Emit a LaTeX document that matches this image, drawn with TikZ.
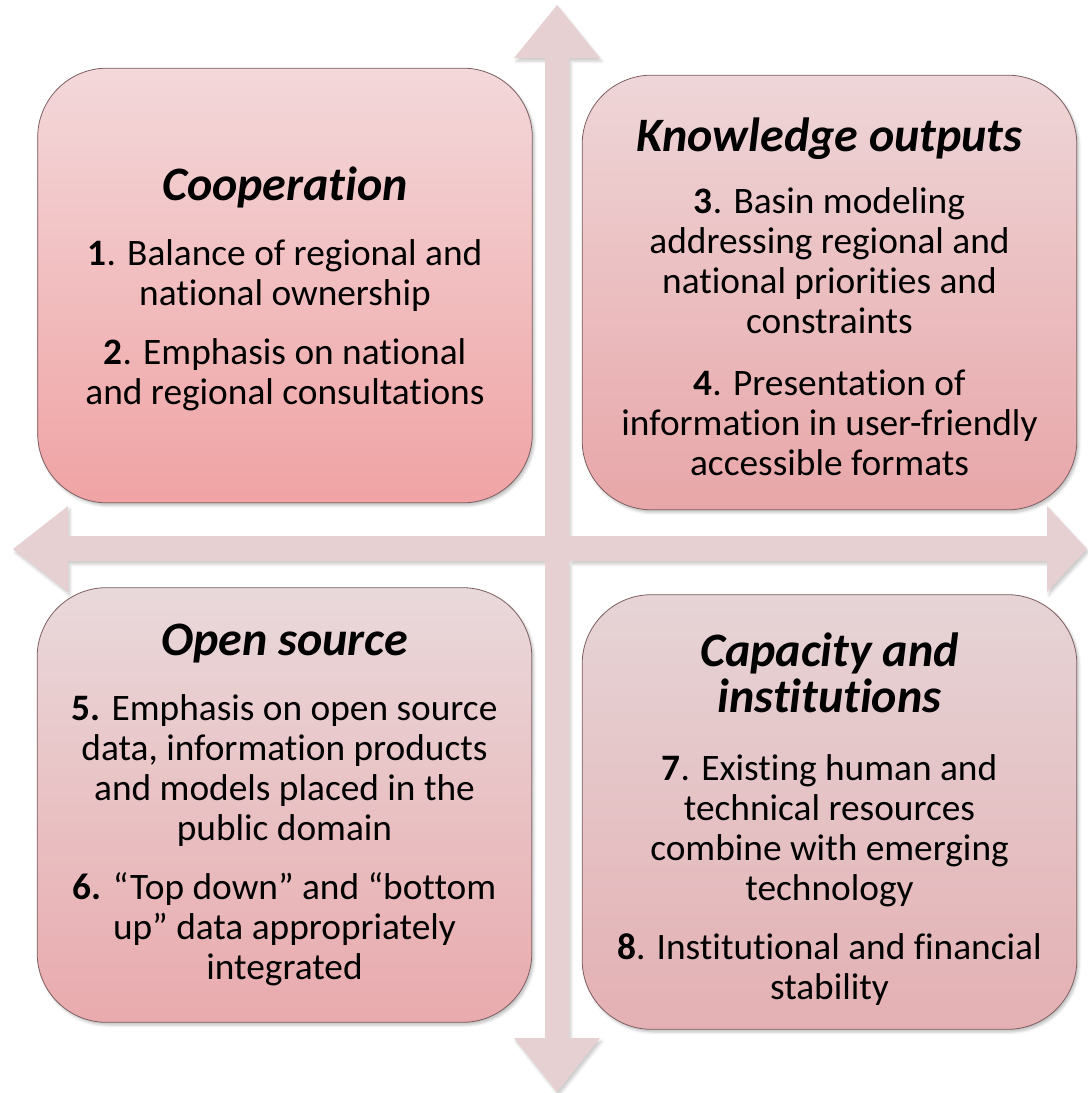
\documentclass[tikz,border=0pt]{standalone}
\usepackage{fontspec}
\setmainfont{Carlito}[Ligatures=NoCommon]
\usetikzlibrary{shadows, shadows.blur}
\definecolor{colAxis}{RGB}{230, 208, 210}
\definecolor{colEdge}{RGB}{125, 95, 97}
\definecolor{colCoopTop}{RGB}{243, 216, 218}
\definecolor{colCoopBot}{RGB}{240, 163, 164}
\definecolor{colKnowTop}{RGB}{238, 214, 216}
\definecolor{colKnowBot}{RGB}{232, 166, 168}
\definecolor{colOpenTop}{RGB}{233, 217, 219}
\definecolor{colOpenBot}{RGB}{233, 170, 173}
\definecolor{colCapaTop}{RGB}{230, 212, 214}
\definecolor{colCapaBot}{RGB}{228, 176, 179}
\newcommand{\qhead}[1]{{\fontsize{36}{40}\selectfont\bfseries\itshape #1}}

\begin{document}
\begin{tikzpicture}[x=0.75pt, y=-0.75pt,
    quad/.style={draw=colEdge, line width=0.6pt, rounded corners=52pt,
        minimum width=371pt, minimum height=326pt, inner sep=0pt,
        blur shadow={shadow xshift=1.5pt, shadow yshift=-2pt,
            shadow blur radius=2pt, shadow opacity=25}},
    qtext/.style={align=center, inner sep=0pt, font=\fontsize{28}{30}\selectfont}
    ]
    \useasboundingbox (0, 0) rectangle (1088, 1093);

    % --- Achsenkreuz ---
    \fill[colAxis, blur shadow={shadow xshift=1.5pt, shadow yshift=-2.5pt,
            shadow blur radius=2pt, shadow opacity=20}]
        (557, 5) -- (600, 58) -- (569, 58) -- (569, 1038) -- (600, 1038)
        -- (557, 1092) -- (514, 1038) -- (545, 1038) -- (545, 58)
        -- (514, 58) -- cycle
        (13, 549) -- (68, 506) -- (68, 536) -- (1047, 536) -- (1047, 506)
        -- (1087, 549) -- (1047, 592) -- (1047, 561) -- (68, 561)
        -- (68, 592) -- cycle;

    % --- Oben links ---
    \node[quad, top color=colCoopTop, bottom color=colCoopBot] (coop) at (285, 285.5) {};
    \node[qtext, yshift=-2.25pt] (coopText) at (coop) {
        \qhead{Cooperation}\\[19pt]
        \textbf{1}. Balance of regional and\\
        national ownership\\[14pt]
        \textbf{2}. Emphasis on national\\
        and regional consultations
    };

    % --- Oben rechts ---
    \node[quad, top color=colKnowTop, bottom color=colKnowBot] (know) at (829.5, 292.5) {};
    \node[qtext, yshift=-3pt] (knowText) at (know) {
        \qhead{Knowledge outputs}\\[17pt]
        \textbf{3}. Basin modeling\\
        addressing regional and\\
        national priorities and\\
        constraints\\[16pt]
        \textbf{4}. Presentation of\\
        information in user-friendly\\
        accessible formats
    };

    % --- Unten links ---
    \node[quad, top color=colOpenTop, bottom color=colOpenBot] (open) at (284.5, 805) {};
    \node[qtext] (openText) at (open) {
        \qhead{Open source}\\[19pt]
        \textbf{5.} Emphasis on open source\\
        data, information products\\
        and models placed in the\\
        public domain\\[14pt]
        \textbf{6.} “Top down” and “bottom\\
        up” data appropriately\\
        integrated
    };

    % --- Unten rechts ---
    \node[quad, top color=colCapaTop, bottom color=colCapaBot] (capa) at (829.5, 812) {};
    \node[qtext, yshift=-5.25pt] (capaText) at (capa) {
        \qhead{Capacity and}\\[3pt]
        \qhead{institutions}\\[21pt]
        \textbf{7}. Existing human and\\
        technical resources\\
        combine with emerging\\
        technology\\[14pt]
        \textbf{8}. Institutional and financial\\
        stability
    };

\end{tikzpicture}
\end{document}
